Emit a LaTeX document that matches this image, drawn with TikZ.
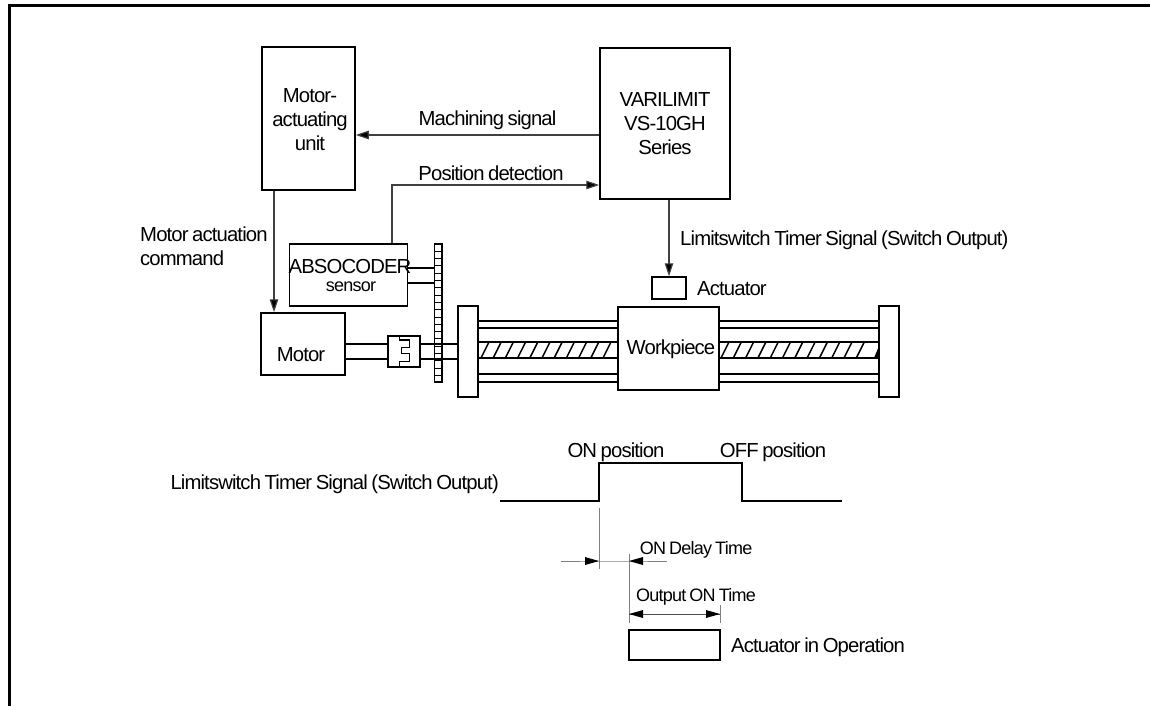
\documentclass[tikz,border=0pt]{standalone}
\usepackage{fontspec}
\setmainfont{Liberation Sans}[LetterSpace=-4.3,WordSpace=0.75]
\usetikzlibrary{arrows.meta}
\tikzset{
  lbl/.style={inner sep=0pt,font=\fontsize{20.3}{24}\selectfont,align=center,text=black},
  small/.style={inner sep=0pt,font=\fontsize{18}{22}\selectfont,align=center,text=black},
  boxm/.style={draw,line width=1.5pt,fill=white,inner sep=0pt},
  wire/.style={line width=1.2pt,draw=black!75},
  arr/.style={wire,-{Triangle[length=13pt,width=8.5pt,fill=black]}},
  thin line/.style={line width=.8pt,draw=black!50},
  thk/.style={line width=1.4pt},
}
\begin{document}
\begin{tikzpicture}[x=1pt,y=-1pt]
\useasboundingbox (0,0) rectangle (1150,706);
\draw[line width=3pt] (9,706) -- (9,6) -- (1150,6);
% boxes
\node[boxm,minimum width=93pt,minimum height=143pt] (mau) at (308.5,118.5) {};
\node[lbl] at (310,120) {Motor-\\actuating\\unit};
\node[boxm,minimum width=130pt,minimum height=151pt] (vl) at (665,123.5) {};
\node[lbl] at (665,124) {VARILIMIT\\VS-10GH\\Series};
\node[boxm,minimum width=118pt,minimum height=62pt] (sensor) at (348.5,275) {};
\node[boxm,minimum width=84pt,minimum height=62pt] (motor) at (303,344) {};
\node[lbl] at (301,355) {Motor};
\node[lbl] at (350,267) {ABSOCODER};
\node[small] at (351,287) {sensor};
% connectors
\coordinate (a1) at (355,135);
\draw[arr] (vl.west |- a1) -- (mau.east |- a1);
\coordinate (a2) at (392,185);
\draw[arr] (sensor.north -| a2) -- (a2) -- (vl.west |- a2);
\coordinate (a3) at (274,190);
\draw[arr] (mau.south -| a3) -- (motor.north -| a3);
\coordinate (a4) at (669,199);
\node[boxm,minimum width=34pt,minimum height=22pt] (act) at (669,288) {};
\draw[arr] (vl.south -| a4) -- (act.north);
\node[lbl,anchor=west] at (680,240) {Limitswitch Timer Signal (Switch Output)};
\node[lbl,anchor=west] at (697,289) {Actuator};
\node[lbl] at (487.5,120) {Machining signal};
\node[lbl] at (491,173) {Position detection};
\node[lbl,align=left,anchor=west] at (140,246) {Motor actuation\\command};
% mechanical frame
\node[boxm,minimum width=20pt,minimum height=91pt] (pl) at (468,351.5) {};
\node[boxm,minimum width=20pt,minimum height=91pt] (pr) at (889,351.5) {};
\node[boxm,minimum width=101pt,minimum height=83pt] (wp) at (668.5,348.5) {};
\node[lbl] at (671,349) {Workpiece};
\draw[thk] (sensor.east |- 0,268) -- (435,268);
\draw[line width=1.1pt] (sensor.east |- 0,283) -- (435,283);
% gear
\fill[white] (434.5,244) rectangle (442,382);
\foreach \i in {0,...,18} \draw[line width=1pt] (434.5,{244+\i*7.3}) -- (442,{244+\i*7.3});
\draw[line width=1.4pt] (434.5,244) rectangle (442,382);
% shafts
\draw[thk] (345,344) -- (388,344) (345,359) -- (388,359);
\draw[thk] (420,344) -- (458,344) (420,359) -- (458,359);
% coupling
\node[boxm,minimum width=32pt,minimum height=31pt] (cp) at (404,351.5) {};
\draw[line width=1.3pt] (399.3,336) -- (399.3,340) -- (409.3,340) -- (409.3,347.7) -- (401.7,347.7) -- (401.7,353.3) -- (409.3,353.3) -- (409.3,361.7) -- (399.3,361.7) -- (399.3,367);
% rails
\foreach \xa/\xb in {478/618,719/879}{
  \foreach \yy in {321,328,374,382} \draw[thk] (\xa,\yy) -- (\xb,\yy);
  \draw[line width=1.5pt] (\xa,342) -- (\xb,342) (\xa,358) -- (\xb,358);
}
\foreach \xx in {481,493.2,...,606} \draw[line width=1.5pt] (\xx,358) -- (\xx+8,342);
\foreach \xx in {721,733.3,...,868} \draw[line width=1.5pt] (\xx,358) -- (\xx+8,342);
\fill (874,358) -- (879,358) -- (879,346) -- cycle;
% timing
\draw[line width=1.2pt] (500,501) -- (599,501) -- (599,463) -- (742,463) -- (742,501) -- (842,501);
\node[lbl,anchor=east] at (499,484) {Limitswitch Timer Signal (Switch Output)};
\node[lbl] at (616,452) {ON position};
\node[lbl] at (773,452) {OFF position};
\coordinate (t1) at (599,508);
\coordinate (t1b) at (599,569);
\coordinate (t2) at (629,554);
\coordinate (t2b) at (629,623);
\coordinate (t3) at (720,605);
\coordinate (t3b) at (720,623);
\draw[thin line] (t1) -- (t1b);
\draw[thin line] (t2) -- (t2b);
\draw[thin line] (t3) -- (t3b);
\draw[thin line] (561,561) -- (599,561) -- (629,561) -- (667,561);
\fill[black] (599,561) -- (585,557) -- (585,565) -- cycle;
\fill[black] (629,561) -- (643,557) -- (643,565) -- cycle;
\draw[line width=.8pt,black!70] (629,614) -- (720,614);
\fill[black] (629,614) -- (643,610) -- (643,618) -- cycle;
\fill[black] (720,614) -- (706,610) -- (706,618) -- cycle;
\node[small] at (696,550) {ON Delay Time};
\node[small] at (696,597) {Output ON Time};
\node[boxm,minimum width=91pt,minimum height=30pt] (aop) at (674.5,645) {};
\node[lbl,anchor=west] at (731,647) {Actuator in Operation};
\end{tikzpicture}
\end{document}
